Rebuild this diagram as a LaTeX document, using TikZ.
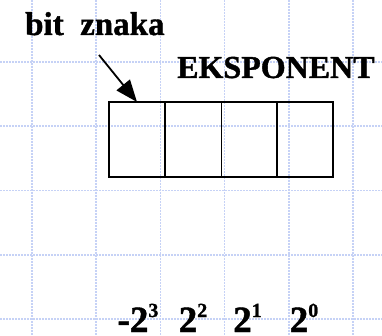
\documentclass[tikz,border=0pt]{standalone}
\usepackage{fontspec}
\newfontfamily\tnr{Liberation Serif}[BoldFeatures={FakeBold=1.2}]
\usetikzlibrary{arrows.meta}
\definecolor{gridblue}{RGB}{198,210,246}
\tikzset{
  gridline/.style={draw=gridblue, line width=1.6pt, dash pattern=on 2pt off 1pt},
  cell/.style={draw=black, line width=1.6pt, minimum width=56pt, minimum height=75pt, inner sep=0pt, outer sep=0pt},
  lbl/.style={inner sep=0pt},
  pw/.style={inner sep=0pt, anchor=base},
  pointer/.style={line width=1.8pt, -{Triangle[length=22pt,width=17pt]}}
}
\newcommand{\pwr}[2]{{\tnr\fontsize{37}{40}\selectfont\bfseries #1}\raisebox{15pt}{\tnr\fontsize{20}{22}\selectfont\bfseries #2}}
\begin{document}
\begin{tikzpicture}[x=1pt,y=-1pt]
\useasboundingbox (0,0) rectangle (382,336);
\fill[white] (0,0) rectangle (382,336);
% grid
\foreach \gx in {32,96.2,160.4,224.6,288.8,353} \draw[gridline] (\gx,0) -- (\gx,336);
\foreach \gy in {62,126.3,190.6,254.9,319.2} \draw[gridline] (0,\gy) -- (382,\gy);
% cells
\node[cell] (b1) at (137,139.5) {};
\node[cell] (b2) at (193.3,139.5) {};
\node[cell] (b3) at (249.5,139.5) {};
\node[cell] (b4) at (305,139.5) {};
% labels
\node[lbl, anchor=base west, font=\tnr\fontsize{33}{36}\selectfont\bfseries] (sign) at (25,35) {bit\ \ znaka};
\node[lbl, anchor=base west, font=\tnr\fontsize{32}{35}\selectfont\bfseries] (exp) at (177,78) {EKSPONENT};
\coordinate (astart) at (99,55);
\draw[pointer] (astart) -- (b1.north);
% weights
\node[pw] (w1) at (138,332) {{\tnr\fontsize{37}{40}\selectfont\bfseries -}\pwr{2}{3}};
\node[pw] (w2) at (193,332) {\pwr{2}{2}};
\node[pw] (w3) at (247.5,332) {\pwr{2}{1}};
\node[pw] (w4) at (304,332) {\pwr{2}{0}};
\end{tikzpicture}
\end{document}
